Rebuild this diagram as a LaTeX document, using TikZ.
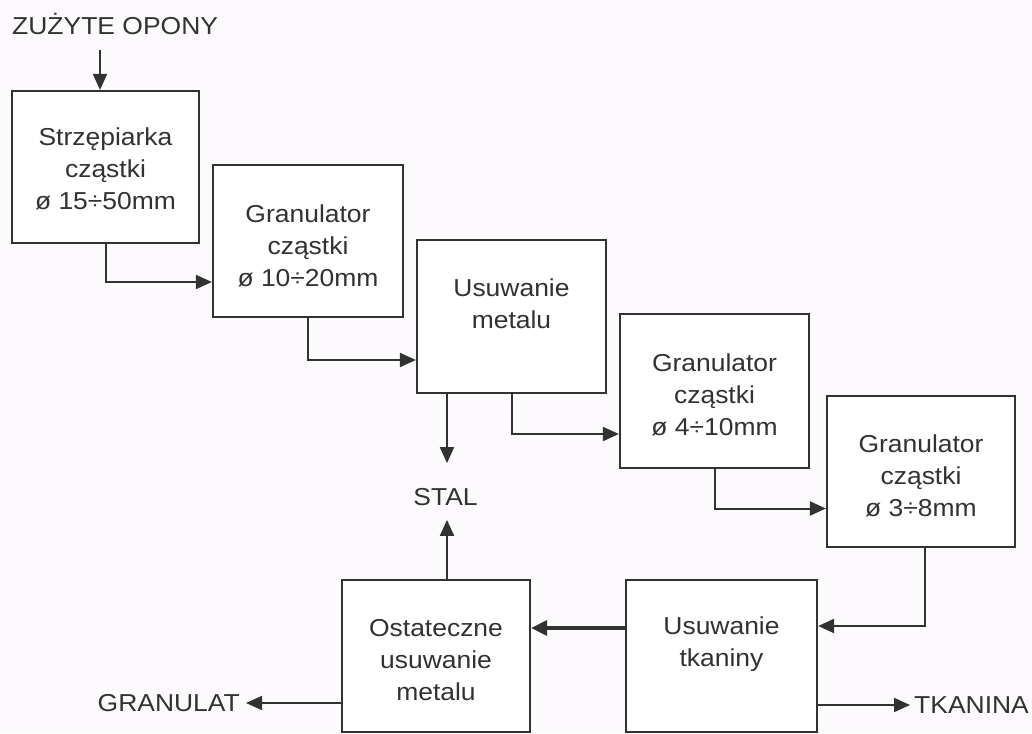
\documentclass[tikz,border=0pt]{standalone}
\usepackage{fontspec}
\setmainfont{Liberation Sans}[FakeStretch=1.08]
\usetikzlibrary{arrows.meta,calc}
\definecolor{ink}{RGB}{50,50,50}
\definecolor{bg}{RGB}{253,250,253}
\begin{document}
\begin{tikzpicture}[x=1pt,y=-1pt,
  box/.style={draw=ink,line width=2.2pt,fill=white,inner sep=0pt},
  txt/.style={text=ink,align=center,inner sep=0pt,font=\fontsize{24.5}{32}\selectfont},
  lbl/.style={text=ink,inner sep=0pt,font=\fontsize{24.5}{32}\selectfont},
  arr/.style={draw=ink,line width=2pt,-{Triangle[length=16pt,width=14pt]}},
  thickarr/.style={draw=ink,line width=3.5pt,-{Triangle[length=16pt,width=15pt]}}]
\fill[bg] (0,0) rectangle (1032,733);
\useasboundingbox (0,0) rectangle (1032,733);
% boxes
\node[box,minimum width=187pt,minimum height=152pt] (b1) at (105.5,167) {};
\node[box,minimum width=190pt,minimum height=152pt] (b2) at (308,241) {};
\node[box,minimum width=189pt,minimum height=153pt] (b3) at (511.5,316.5) {};
\node[box,minimum width=189pt,minimum height=154pt] (b4) at (714.5,391) {};
\node[box,minimum width=188pt,minimum height=151pt] (b5) at (921,471.5) {};
\node[box,minimum width=191pt,minimum height=152pt] (b6) at (721.5,656) {};
\node[box,minimum width=188pt,minimum height=152pt] (b7) at (436,656) {};
% box texts
\node[txt] (t1) at ([yshift=-2pt]b1.center) {Strzępiarka\\cząstki\\ø 15÷50mm};
\node[txt] (t2) at ([yshift=-5pt]b2.center) {Granulator\\cząstki\\ø 10÷20mm};
\node[txt] (t3) at ([yshift=13pt]b3.center) {Usuwanie\\metalu};
\node[txt] (t4) at ([yshift=-4pt]b4.center) {Granulator\\cząstki\\ø 4÷10mm};
\node[txt] (t5) at ([yshift=-4pt]b5.center) {Granulator\\cząstki\\ø 3÷8mm};
\node[txt] (t6) at ([yshift=12pt]b6.center) {Usuwanie\\tkaniny};
\node[txt] (t7) at ([yshift=-4pt]b7.center) {Ostateczne\\usuwanie\\metalu};
% outside labels
\node[lbl,anchor=base west] (zo) at (12,35) {ZUŻYTE OPONY};
\node[lbl] (stal) at (445.5,497) {STAL};
\node[lbl,anchor=east] (gran) at (240,703) {GRANULAT};
\node[lbl,anchor=west] (tk) at (914,705) {TKANINA};
\coordinate (z0) at (100,50);
% connectors
\draw[arr] (z0) -- (z0 |- b1.north);
\draw[arr] (b1.south) |- ([yshift=-41pt]b2.west);
\draw[arr] (b2.south) |- ([yshift=-43.5pt]b3.west);
\draw[arr] ([xshift=-64.5pt]b3.south) -- ([xshift=-64.5pt,yshift=-69pt]b3.south);
\draw[arr] (b3.south) |- ([yshift=-43pt]b4.west);
\draw[arr] (b4.south) |- ([yshift=-37pt]b5.west);
\draw[arr] ([xshift=4pt]b5.south) |- ([yshift=30pt]b6.east);
\draw[thickarr] ([yshift=28pt]b6.west) -- ([yshift=28pt]b7.east);
\draw[arr] ([xshift=11pt]b7.north) -- ([xshift=11pt,yshift=59pt]b7.north);
\draw[arr] ([yshift=-47pt]b7.west) -- ([xshift=6pt]gran.east |- 0,703);
\draw[arr] ([yshift=-49pt]b6.east) -- ([xshift=-4pt]tk.west);
\end{tikzpicture}
\end{document}
